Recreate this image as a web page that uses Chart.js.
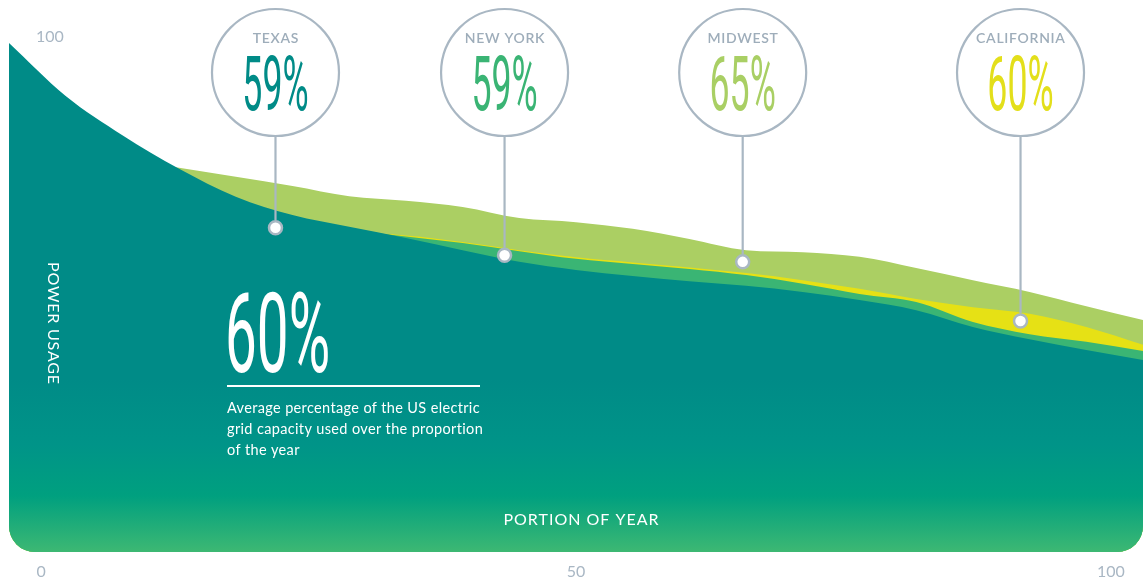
<!DOCTYPE html>
<html>
<head>
<meta charset="utf-8">
<script src="https://cdn.jsdelivr.net/npm/chart.js@4/dist/chart.umd.min.js"></script>
<style>
  html, body { margin: 0; padding: 0; background: #ffffff; }
  #wrap { width: 1143px; height: 580px; position: relative; }
</style>
</head>
<body>
<div id="wrap"><canvas id="grid" width="1143" height="580"></canvas></div>
<script>
// Portion of the year (%) where each load-duration curve is sampled
const portion = [0, 5, 10, 15, 20, 25, 30, 35, 40, 45, 50, 55, 60, 65, 70, 75, 80, 85, 90, 95, 100];

// Power usage (% of capacity) per region
const texas      = [100, 89.6, 81.9, 75.3, 69.8, 66.2, 63.9, 61.7, 59.3, 57.0, 55.4, 54.2, 53.2, 52.3, 51.1, 49.5, 47.5, 44.2, 41.8, 39.7, 37.7];
const newYork    = [94, 84, 77.5, 71.5, 67, 64.5, 63.2, 62.0, 60.7, 59.1, 57.6, 56.6, 55.6, 54.4, 52.7, 50.7, 49.1, 45.2, 42.8, 41.3, 39.5];
const california = [93.5, 83.5, 77, 71, 66.5, 64, 62.8, 62.2, 60.9, 59.3, 57.9, 56.9, 55.9, 54.8, 53.4, 51.7, 49.7, 48.1, 46.8, 44.2, 40.7];
const midwest    = [80, 78.5, 77, 75.5, 73.7, 71.9, 69.9, 69.0, 67.8, 65.6, 64.8, 63.5, 61.5, 59.3, 58.9, 58.0, 55.8, 53.4, 51.1, 48.3, 45.6];

// Callout markers: region name, average share, and the marker position (portion, usage)
const regions      = ['TEXAS', 'NEW YORK', 'MIDWEST', 'CALIFORNIA'];
const regionShares = [59, 59, 65, 60];
const markerX      = [23.5, 43.7, 64.7, 89.2];
const markerY      = [63.7, 58.3, 57.0, 45.4];

// Headline figure and its caption
const averageShare = 60;
const caption = ['Average percentage of the US electric', 'grid capacity used over the proportion', 'of the year'];

// Axis text
const xTicks = [0, 50, 100];
const yTicks = [100];
const yTitle = 'POWER USAGE';
const xTitle = 'PORTION OF YEAR';

// Styles
const COLORS = {
  texas: '#008b87',
  newYork: '#3ab574',
  california: '#e6e115',
  midwest: '#abcf63',
  tick: '#a9b7c4',
  callout: '#a9b7c3',
  region: '#9eadba'
};
const calloutColors = ['#008b87', '#3ab474', '#a9cf64', '#e3df1b'];

const toPoints = (ys) => portion.map((p, i) => ({ x: p, y: ys[i] }));

function texasFill(context) {
  const chart = context.chart;
  const a = chart.chartArea;
  if (!a) return COLORS.texas;
  const g = chart.ctx.createLinearGradient(0, a.top, 0, a.bottom);
  g.addColorStop(0, '#008b87');
  g.addColorStop(0.66, '#008b87');
  g.addColorStop(0.79, '#009488');
  g.addColorStop(0.89, '#00a07f');
  g.addColorStop(1, '#3db873');
  return g;
}

function areaSet(label, ys, color, order) {
  return {
    label,
    data: toPoints(ys),
    order,
    fill: 'origin',
    backgroundColor: color,
    borderColor: 'rgba(0,0,0,0)',
    borderWidth: 0,
    pointRadius: 0,
    pointHoverRadius: 0,
    cubicInterpolationMode: 'monotone'
  };
}

// Rounded bottom corners on the plotted area
const plotClip = {
  id: 'plotClip',
  beforeDatasetsDraw(chart) {
    const { ctx, chartArea: a } = chart;
    ctx.save();
    ctx.beginPath();
    ctx.roundRect(a.left, 0, a.right - a.left, a.bottom, [0, 0, 26, 26]);
    ctx.clip();
  },
  afterDatasetsDraw(chart) {
    chart.ctx.restore();
  }
};

function spacedText(ctx, text, px, tx, ty) {
  ctx.letterSpacing = px + 'px';
  ctx.fillText(text, tx, ty);
  ctx.letterSpacing = '0px';
}

// Callout bubbles, headline number, caption and axis titles
const annotations = {
  id: 'annotations',
  afterDraw(chart) {
    const { ctx, scales: { x, y } } = chart;
    ctx.save();

    regions.forEach((name, i) => {
      const cx = x.getPixelForValue(markerX[i]);
      const dy = y.getPixelForValue(markerY[i]);
      const cy = 72.5, r = 63.5;
      ctx.strokeStyle = COLORS.callout;
      ctx.lineWidth = 2.2;
      ctx.beginPath();
      ctx.arc(cx, cy, r, 0, Math.PI * 2);
      ctx.stroke();
      ctx.beginPath();
      ctx.moveTo(cx, cy + r);
      ctx.lineTo(cx, dy - 7.5);
      ctx.stroke();

      ctx.fillStyle = COLORS.region;
      ctx.font = '600 14px Lato';
      ctx.textAlign = 'center';
      ctx.textBaseline = 'middle';
      spacedText(ctx, name, 0.7, cx + 0.35, 38);

      ctx.save();
      ctx.translate(cx, 109.5);
      ctx.scale(0.47, 1);
      ctx.font = '400 76px Roboto';
      ctx.textAlign = 'center';
      ctx.textBaseline = 'alphabetic';
      ctx.fillStyle = calloutColors[i];
      ctx.fillText(regionShares[i] + '%', 0, 0);
      ctx.restore();
    });

    // headline
    ctx.save();
    ctx.translate(225, 372);
    ctx.scale(0.51, 1);
    ctx.font = '400 111px Roboto';
    ctx.textAlign = 'left';
    ctx.textBaseline = 'alphabetic';
    ctx.fillStyle = '#ffffff';
    ctx.fillText(averageShare + '%', 0, 0);
    ctx.restore();

    ctx.strokeStyle = '#ffffff';
    ctx.lineWidth = 2;
    ctx.beginPath();
    ctx.moveTo(227, 386);
    ctx.lineTo(480, 386);
    ctx.stroke();

    ctx.fillStyle = '#ffffff';
    ctx.font = '400 14.5px Lato';
    ctx.textAlign = 'left';
    ctx.textBaseline = 'middle';
    caption.forEach((line, i) => spacedText(ctx, line, 0.35, 227, 408 + i * 21));

    // axis titles inside the plot
    ctx.font = '400 16px Lato';
    ctx.textAlign = 'center';
    ctx.textBaseline = 'middle';
    spacedText(ctx, xTitle, 1, 581.5, 520);
    ctx.save();
    ctx.translate(53, 323);
    ctx.rotate(Math.PI / 2);
    spacedText(ctx, yTitle, 0.8, 0.4, 0);
    ctx.restore();

    ctx.restore();
  }
};

Chart.defaults.font.family = 'Lato';

new Chart(document.getElementById('grid'), {
  type: 'line',
  data: {
    datasets: [
      {
        label: 'Markers',
        data: markerX.map((v, i) => ({ x: v, y: markerY[i] })),
        order: 0,
        showLine: false,
        pointRadius: 6.5,
        pointHoverRadius: 6.5,
        pointBorderWidth: 2.5,
        pointBackgroundColor: '#ffffff',
        pointBorderColor: COLORS.callout
      },
      areaSet('Texas', texas, texasFill, 1),
      areaSet('New York', newYork, COLORS.newYork, 2),
      areaSet('California', california, COLORS.california, 3),
      areaSet('Midwest', midwest, COLORS.midwest, 4)
    ]
  },
  options: {
    responsive: false,
    devicePixelRatio: 1,
    animation: false,
    events: [],
    layout: { autoPadding: false, padding: { left: 9, right: 0, top: 43, bottom: 0 } },
    plugins: { legend: { display: false }, tooltip: { enabled: false }, title: { display: false } },
    scales: {
      x: { type: 'linear', min: 0, max: 100, display: false },
      xt: {
        type: 'linear',
        position: 'bottom',
        min: -3,
        max: 103,
        afterBuildTicks: (axis) => { axis.ticks = xTicks.map(v => ({ value: v })); },
        afterFit: (axis) => {
          axis.height = 28;
          axis.paddingLeft = 0; axis.paddingRight = 0;
        },
        grid: { display: false, drawTicks: false },
        border: { display: false },
        ticks: { color: COLORS.tick, font: { size: 16 }, padding: 10.4, maxRotation: 0 }
      },
      y: {
        type: 'linear',
        position: 'left',
        min: 0,
        max: 100,
        afterBuildTicks: (axis) => { axis.ticks = yTicks.map(v => ({ value: v })); },
        afterFit: (axis) => {
          axis.width = 0;
          axis.paddingTop = 0; axis.paddingBottom = 0;
        },
        grid: { display: false, drawTicks: false },
        border: { display: false },
        ticks: { color: COLORS.tick, font: { size: 16 }, mirror: true, padding: 27, labelOffset: -6 }
      }
    }
  },
  plugins: [plotClip, annotations]
});
</script>
</body>
</html>
